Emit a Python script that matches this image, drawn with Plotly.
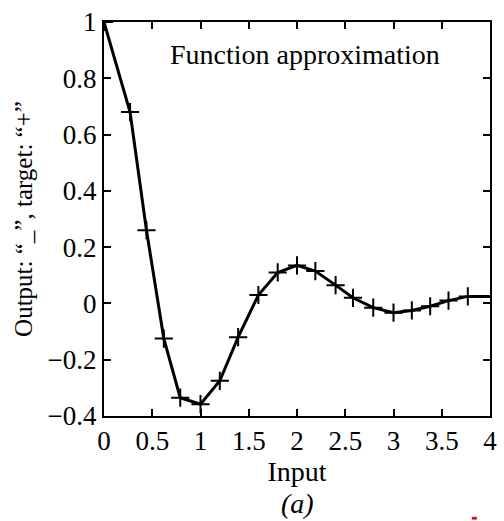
import plotly.graph_objects as go

# Target points ("+")
x_target = [0, 0.27, 0.44, 0.62, 0.79, 1.0, 1.2, 1.39, 1.6, 1.8, 2.0, 2.19,
            2.4, 2.58, 2.79, 3.0, 3.19, 3.38, 3.57, 3.77]
y_target = [1.0, 0.68, 0.26, -0.125, -0.335, -0.358, -0.275, -0.12, 0.03,
            0.11, 0.135, 0.115, 0.065, 0.02, -0.015, -0.033, -0.025, -0.01,
            0.01, 0.025]

# Network output ("-")
x_output = [0, 0.27, 0.44, 0.62, 0.79, 1.0, 1.2, 1.39, 1.6, 1.8, 2.0, 2.19,
            2.4, 2.58, 2.79, 3.0, 3.19, 3.38, 3.57, 3.77, 4.0]
y_output = [1.0, 0.68, 0.26, -0.125, -0.335, -0.358, -0.275, -0.12, 0.03,
            0.11, 0.135, 0.115, 0.065, 0.02, -0.015, -0.033, -0.025, -0.01,
            0.01, 0.025, 0.025]

x_ticks = [0, 0.5, 1, 1.5, 2, 2.5, 3, 3.5, 4]
x_ticktext = ["0", "0.5", "1", "1.5", "2", "2.5", "3", "3.5", "4"]
y_ticks = [-0.4, -0.2, 0, 0.2, 0.4, 0.6, 0.8, 1]
y_ticktext = ["\u22120.4", "\u22120.2", "0", "0.2", "0.4", "0.6", "0.8", "1"]

FONT = "Liberation Serif"

fig = go.Figure()
fig.add_trace(go.Scatter(x=x_output, y=y_output, mode="lines",
                         line=dict(color="black", width=3),
                         showlegend=False, hoverinfo="skip"))
fig.add_trace(go.Scatter(x=x_target, y=y_target, mode="markers",
                         marker=dict(symbol="cross-thin", size=13,
                                     line=dict(color="black", width=2)),
                         showlegend=False))

axis_common = dict(showgrid=False, zeroline=False, showline=True,
                   linecolor="black", linewidth=2, mirror="allticks",
                   ticks="inside", ticklen=7, tickwidth=1.5, tickcolor="black",
                   tickfont=dict(family=FONT, size=27, color="black"))

fig.update_xaxes(range=[0, 4], tickvals=x_ticks, ticktext=x_ticktext,
                 title=dict(text="Input", font=dict(family=FONT, size=28, color="black"),
                            standoff=1),
                 ticklabelstandoff=0, **axis_common)
fig.update_yaxes(range=[-0.4, 1], tickvals=y_ticks, ticktext=y_ticktext,
                 title=dict(text="Output: \u201c_\u201d, target: \u201c+\u201d",
                            font=dict(family=FONT, size=25, color="black"),
                            standoff=8),
                 ticklabelstandoff=0, **axis_common)

fig.add_annotation(x=0.522, y=0.917, xref="paper", yref="paper",
                   yanchor="middle",
                   text="Function approximation", showarrow=False,
                   font=dict(family=FONT, size=28, color="black"))
fig.add_annotation(x=0.5, y=-0.222, xref="paper", yref="paper", yanchor="middle",
                   text="<i>(a)</i>", showarrow=False,
                   font=dict(family=FONT, size=28, color="black"))

fig.add_shape(type="rect", xref="paper", yref="paper",
              x0=0.953, x1=0.966, y0=-0.256, y1=-0.263,
              fillcolor="red", line=dict(width=0))

fig.update_layout(width=504, height=521,
                  margin=dict(l=104, r=7, t=18, b=105),
                  paper_bgcolor="white", plot_bgcolor="white")

fig.write_html("out.html")
